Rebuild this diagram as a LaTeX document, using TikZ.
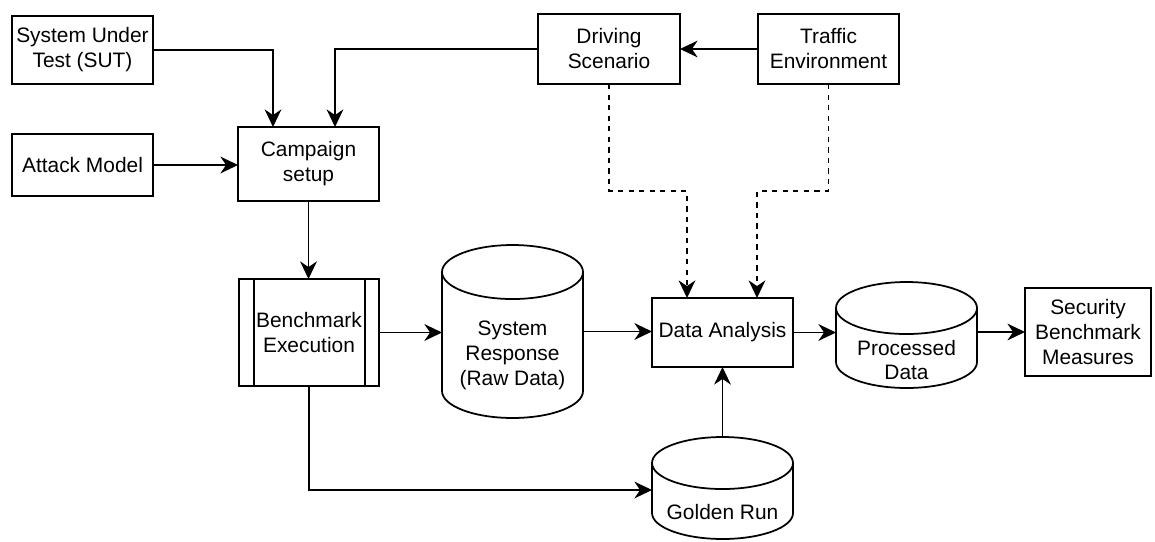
\documentclass[tikz,border=0pt]{standalone}
\usepackage{fontspec}
\setmainfont{Liberation Sans}
\usetikzlibrary{arrows.meta,calc}
\begin{document}
\begin{tikzpicture}[x=0.02cm,y=0.02cm,
  every node/.style={font=\fontsize{11.9}{14.2}\selectfont, align=center, inner sep=0pt, outer sep=0pt},
  box/.style={draw, line width=1pt, fill=white},
  body/.style={inner sep=0pt},
  cyl/.style={draw, line width=1pt, fill=white},
  arr/.style={line width=1.1pt, -{Stealth[length=10pt, width=9.5pt, inset=3.2pt]}},
  dsh/.style={arr, dash pattern=on 3pt off 3pt}]
\useasboundingbox (0,0) rectangle (1155,-541);

% boxes
\node[box, minimum width=2.82cm, minimum height=1.36cm] (sut) at (82.5,-50) {System Under\\Test (SUT)};
\node[box, minimum width=2.82cm, minimum height=1.24cm] (atk) at (82.5,-165) {Attack Model};
\node[box, minimum width=2.82cm, minimum height=1.48cm] (camp) at (308.5,-164) {Campaign\\setup};
\node[box, minimum width=2.84cm, minimum height=1.40cm] (drv) at (609,-49) {Driving\\Scenario};
\node[box, minimum width=2.82cm, minimum height=1.40cm] (trf) at (828.5,-49) {Traffic\\Environment};
\node[box, minimum width=2.80cm, minimum height=2.14cm] (bm) at (309,-332.5) {Benchmark\\Execution};
\draw[line width=1pt] ([xshift=0.30cm]bm.north west) -- ([xshift=0.30cm]bm.south west);
\draw[line width=1pt] ([xshift=-0.28cm]bm.north east) -- ([xshift=-0.28cm]bm.south east);
\node[box, minimum width=2.82cm, minimum height=1.38cm] (da) at (722.5,-332.5) {Data Analysis};
\node[box, minimum width=2.52cm, minimum height=1.76cm] (sec) at (1088,-332) {Security\\Benchmark\\Measures};

% cylinders
\newcommand\drawcyl[2]{%
  \draw[cyl] ($(#1.north west)+(0,-#2)$) -- ($(#1.south west)+(0,#2)$)
    arc[start angle=180, end angle=360, x radius=70.5, y radius=#2]
    -- ($(#1.north east)+(0,-#2)$)
    arc[start angle=0, end angle=180, x radius=70.5, y radius=#2] -- cycle;
  \draw[line width=1pt] ($(#1.north west)+(0,-#2)$)
    arc[start angle=180, end angle=360, x radius=70.5, y radius=#2];}

\node[body, minimum width=2.82cm, minimum height=3.46cm] (sr) at (512.5,-331.5) {};
\drawcyl{sr}{27}
\node (srt) at (512.5,-355) {System\\Response\\(Raw Data)};

\node[body, minimum width=2.82cm, minimum height=2.12cm] (pd) at (906.5,-335) {};
\drawcyl{pd}{26}
\node (pdt) at (906.5,-360) {Processed\\Data};

\node[body, minimum width=2.82cm, minimum height=2.04cm] (gr) at (722.5,-488) {};
\drawcyl{gr}{26}
\node (grt) at (722.5,-512) {Golden Run};

% connectors
\draw[arr] (sut.east) -| ([xshift=0.70cm]camp.north west);
\draw[arr] (drv.west) -| ([xshift=1.94cm]camp.north west);
\draw[arr] (trf.west) -- (drv.east);
\draw[arr] (atk.east) -- (atk.east -| camp.west);
\draw[arr] (camp.south) -- (camp.south |- bm.north);
\draw[arr] (bm.east) -- (bm.east -| sr.west);
\draw[arr] (sr.east) -- (sr.east -| da.west);
\draw[arr] (da.east) -- (da.east -| pd.west);
\draw[arr] (pd.east |- sec.west) -- (sec.west);
\draw[arr] (bm.south) |- ([yshift=-0.04cm]gr.west);
\draw[arr] (gr.north) -- (da.south);

\coordinate (d1) at (687,-191);
\coordinate (d2) at (757,-191);
\draw[dsh] (drv.south) |- (d1) -- (d1 |- da.north);
\draw[dsh] (trf.south) |- (d2) -- (d2 |- da.north);
\end{tikzpicture}
\end{document}
